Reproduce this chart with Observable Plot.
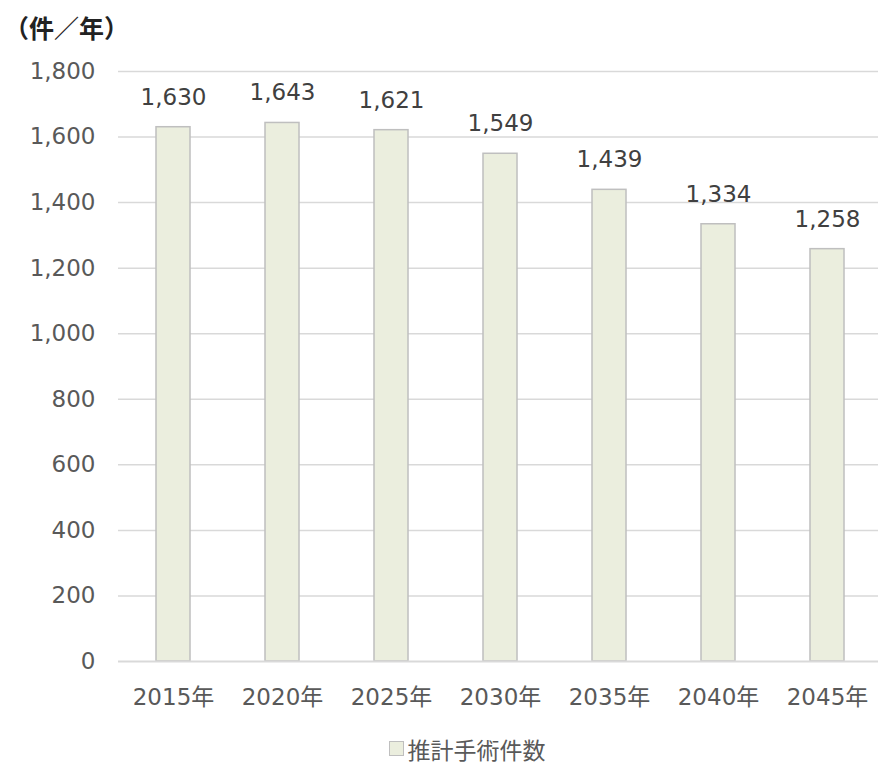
<!DOCTYPE html>
<html><head><meta charset="utf-8">
<script src="https://cdn.jsdelivr.net/npm/d3@7"></script>
<script src="https://cdn.jsdelivr.net/npm/@observablehq/plot@0.6"></script>
<style>
body{margin:0;background:#fff;font-family:Verdana,"DejaVu Sans","Noto Sans CJK JP",sans-serif;}
#title{height:50px;line-height:54px;padding-left:4px;font-weight:bold;font-size:25px;color:#222;font-family:"Noto Sans CJK JP",sans-serif;}
#legend{height:37px;display:flex;justify-content:center;align-items:center;font-size:23px;color:#595959;font-family:"Noto Sans CJK JP",sans-serif;padding-left:56px;box-sizing:border-box;}
#legend span.sw{display:inline-block;width:13px;height:13px;background:#EBEEDE;border:1px solid #BFBFBF;margin-right:4px;}
</style></head>
<body>
<div id="title">（件／年）</div>
<div id="chart"></div>
<div id="legend"><span class="sw"></span><span>推計手術件数</span></div>
<script>
const years = ["2015年","2020年","2025年","2030年","2035年","2040年","2045年"];
const values = [1630,1643,1621,1549,1439,1334,1258];
const yTicks = [0,200,400,600,800,1000,1200,1400,1600,1800];
const seriesName = "推計手術件数";

const data = years.map((y,i)=>({year:y, value:values[i]}));
const font = 'Verdana,"DejaVu Sans","Noto Sans CJK JP",sans-serif';

const chart = Plot.plot({
  width: 878,
  height: 680,
  marginLeft: 118,
  marginRight: 0,
  marginTop: 21,
  marginBottom: 69,
  style: {fontFamily: font, fontSize: "23px", color: "#595959", background: "#fff"},
  x: {domain: years, range: [115, 884], paddingInner: 0.69, paddingOuter: 0.345, label: null},
  y: {domain: [0,1800], label: null},
  marks: [
    Plot.ruleY(yTicks.filter(d=>d>0), {stroke:"#D9D9D9", strokeWidth:1.5, strokeOpacity:1}),
    Plot.barY(data, {x:"year", y:"value", fill:"#EBEEDE", stroke:"#BFBFBF", strokeWidth:1.5}),
    Plot.ruleY([0], {stroke:"#D9D9D9", strokeWidth:2}),
    Plot.axisY({ticks: yTicks, tickSize:0, tickPadding:23, tickFormat: d=>d3.format(",")(d), fontSize:23, fill:"#595959", label:null}),
    Plot.axisX({tickSize:0, tickPadding:27, fontSize:23, fill:"#595959", label:null}),
    Plot.text(data, {x:"year", y:"value", text:d=>d3.format(",")(d.value), dy:-30, fontSize:23, fill:"#404040"})
  ]
});
document.getElementById("chart").appendChild(chart);
</script>
</body></html>
